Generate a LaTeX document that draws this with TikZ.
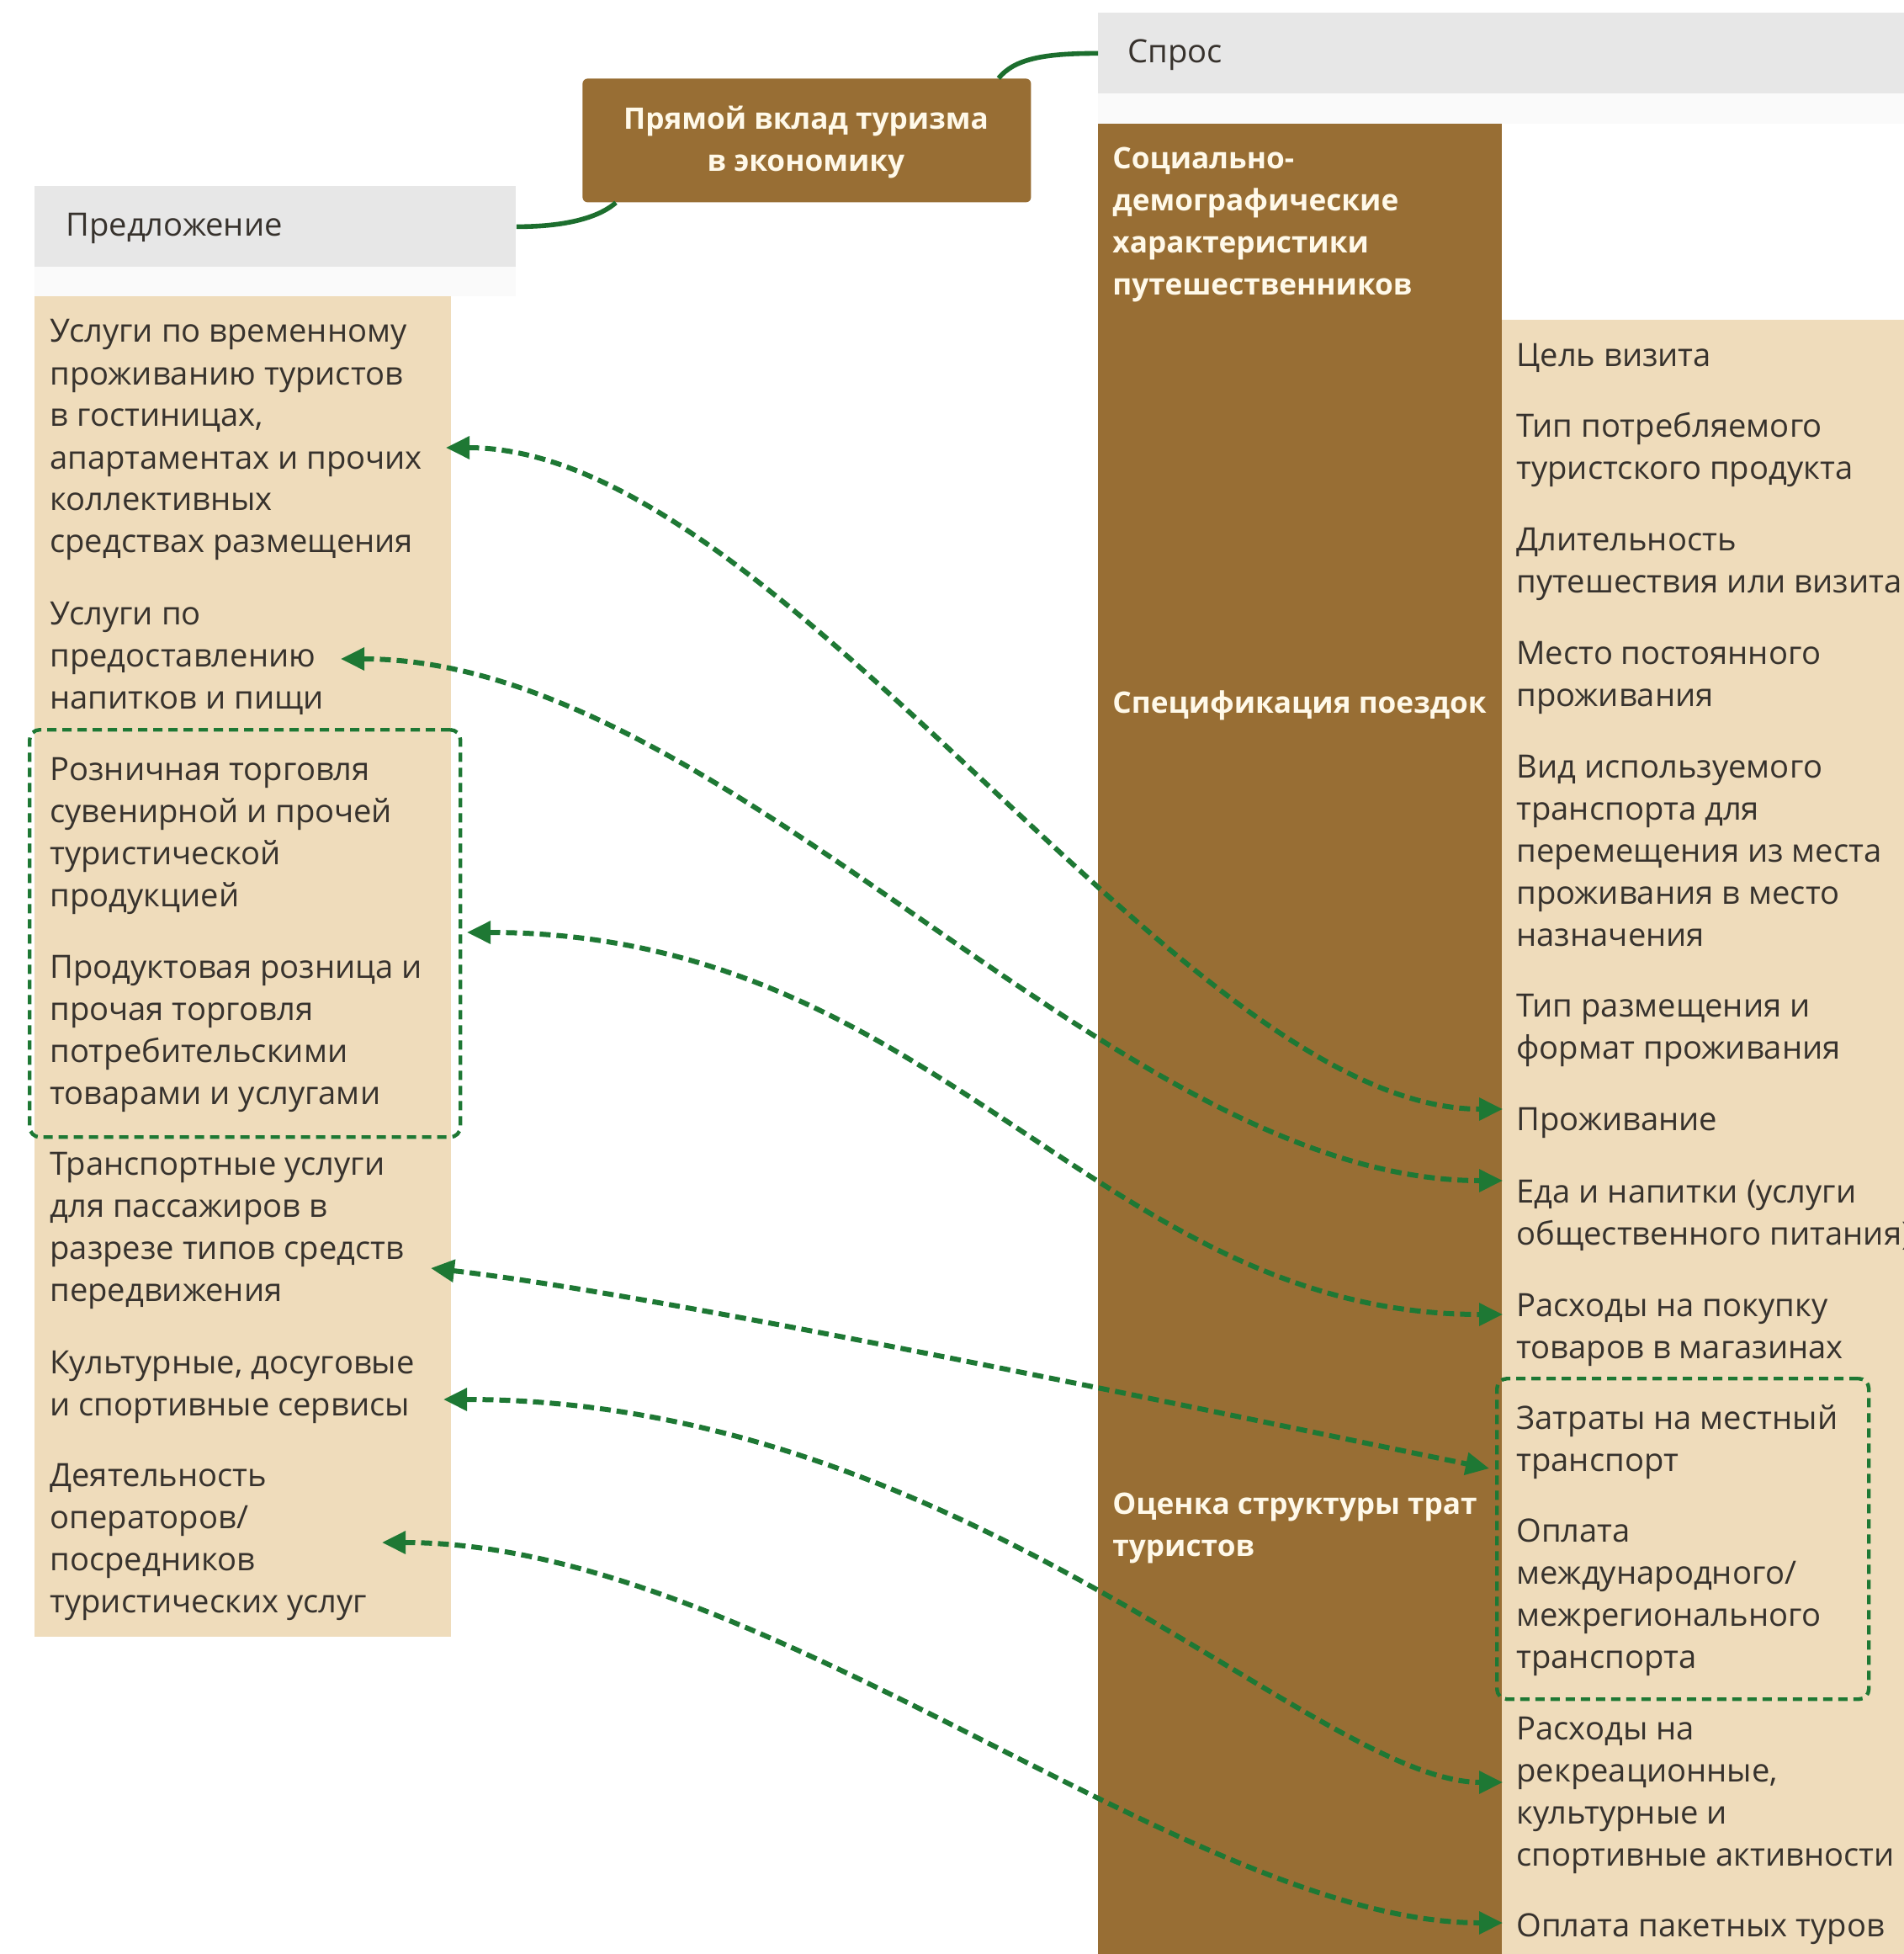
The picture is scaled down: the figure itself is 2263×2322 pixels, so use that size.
\documentclass[tikz,border=0pt]{standalone}
\usepackage{fontspec}
\setmainfont{Open Sans}
\usetikzlibrary{arrows.meta,calc}
\definecolor{brownc}{RGB}{152,110,52}
\definecolor{beigec}{RGB}{239,220,187}
\definecolor{grayc}{RGB}{231,231,231}
\definecolor{faintc}{RGB}{250,250,250}
\definecolor{linkc}{RGB}{30,120,52}
\definecolor{connc}{RGB}{28,110,46}
\definecolor{textc}{RGB}{55,50,45}
\definecolor{creamc}{RGB}{255,249,233}
\tikzset{
  txt/.style={anchor=base west, inner sep=0pt, text=textc, font=\fontsize{19.1}{25}\selectfont},
  wtxt/.style={anchor=base west, inner sep=0pt, text=creamc, font=\bfseries\fontsize{17.6}{25}\selectfont},
  link/.style={draw=linkc, line width=3pt, dash pattern=on 6.5pt off 3.5pt,
    {Triangle[length=14pt,width=13pt]}-{Triangle[length=14pt,width=13pt]}},
  grpbox/.style={draw=linkc, line width=2.2pt, dash pattern=on 5.5pt off 3.5pt, rounded corners=6pt, inner sep=0pt},
  conn/.style={draw=connc, line width=2.8pt},
}
\newcommand{\blk}[1]{\parbox[t]{300pt}{#1}}
\begin{document}
\begin{tikzpicture}[x=0.5pt,y=-0.5pt]
\useasboundingbox (0,0) rectangle (2263,2322);
\clip (0,0) rectangle (2263,2322);
% panels
\fill[white] (0,0) rectangle (2263,2322);
\node (spros) [fill=grayc, minimum width=479pt, minimum height=48pt, inner sep=0pt, anchor=north west] at (1305,15) {};
\fill[faintc] (1305,111) rectangle (2263,147);
\fill[brownc] (1305,147) rectangle (1785,2322);
\fill[beigec] (1785,380) rectangle (2263,2322);
\node (predl) [fill=grayc, minimum width=286pt, minimum height=48pt, inner sep=0pt, anchor=north west] at (41,221) {};
\fill[faintc] (41,317) rectangle (613,352);
\fill[beigec] (41,352) rectangle (536,1945);
\node (title) [fill=brownc, rounded corners=3pt, minimum width=266.5pt, minimum height=73.5pt, inner sep=0pt, anchor=north west] at (692,93) {};

% connectors from the title
\draw[conn] (predl.east) .. controls +(66,0) and +(-17,15) .. ($(title.south west)+(40,0)$);
\draw[conn] ($(title.north east)+(-39,0)$) .. controls +(19,-23) and +(-65,0) .. (spros.west);

% header texts
\node (sprost) [txt] at (1340,75) {Спрос};
\node (predlt) [txt] at (78,281) {Предложение};
\node (titlet) [anchor=base, inner sep=0pt, text=creamc, font=\bfseries\fontsize{17.6}{25}\selectfont] at (958,154)
  {\parbox[t]{300pt}{\centering Прямой вклад туризма\\в экономику}};

% brown column
\node (b1) [wtxt] at (1322,201) {\blk{Социально-\\демографические\\характеристики\\путешественников}};
\node (b2) [wtxt] at (1322,847) {\blk{Спецификация поездок}};
\node (b3) [wtxt] at (1322,1799) {\blk{Оценка структуры трат\\туристов}};

% right column
\node (r1) [txt] at (1802,435) {\blk{Цель визита}};
\node (r2) [txt] at (1802,519) {\blk{Тип потребляемого\\туристского продукта}};
\node (r3) [txt] at (1802,654) {\blk{Длительность\\путешествия или визита}};
\node (r4) [txt] at (1802,789) {\blk{Место постоянного\\проживания}};
\node (r5) [txt] at (1802,924) {\blk{Вид используемого\\транспорта для\\перемещения из места\\проживания в место\\назначения}};
\node (r6) [txt] at (1802,1208) {\blk{Тип размещения и\\формат проживания}};
\node (r7) [txt] at (1802,1343) {\blk{Проживание}};
\node (r8) [txt] at (1802,1429) {\blk{Еда и напитки (услуги\\общественного питания)}};
\node (r9) [txt] at (1802,1564) {\blk{Расходы на покупку\\товаров в магазинах}};
\node (r10) [txt] at (1802,1698) {\blk{Затраты на местный\\транспорт}};
\node (r11) [txt] at (1802,1832) {\blk{Оплата\\международного/\\межрегионального\\транспорта}};
\node (r12) [txt] at (1802,2067) {\blk{Расходы на\\рекреационные,\\культурные и\\спортивные активности}};
\node (r13) [txt] at (1802,2301) {\blk{Оплата пакетных туров}};

% left column
\node (l1) [txt] at (59,407) {\blk{Услуги по временному\\проживанию туристов\\в гостиницах,\\апартаментах и прочих\\коллективных\\средствах размещения}};
\node (l2) [txt] at (59,742) {\blk{Услуги по\\предоставлению\\напитков и пищи}};
\node (l3) [txt] at (59,927) {\blk{Розничная торговля\\сувенирной и прочей\\туристической\\продукцией}};
\node (l4) [txt] at (59,1162) {\blk{Продуктовая розница и\\прочая торговля\\потребительскими\\товарами и услугами}};
\node (l5) [txt] at (59,1396) {\blk{Транспортные услуги\\для пассажиров в\\разрезе типов средств\\передвижения}};
\node (l6) [txt] at (59,1632) {\blk{Культурные, досуговые\\и спортивные сервисы}};
\node (l7) [txt] at (59,1766) {\blk{Деятельность\\операторов/\\посредников\\туристических услуг}};

% dashed groups
\node (grpL) [grpbox, minimum width=256pt, minimum height=242pt, anchor=north west] at (33,865) {};
\node (grpR) [grpbox, minimum width=221pt, minimum height=190.5pt, anchor=north west] at (1777,1636) {};

% arrow end points
\coordinate (a1L) at (530,532);  \coordinate (a1R) at (1786,1318);
\coordinate (a2L) at (405,783);  \coordinate (a2R) at (1786,1403);
\coordinate (a3L) at (555,1108); \coordinate (a3R) at (1786,1562);
\coordinate (a4L) at (512,1507); \coordinate (a4R) at (1770,1745);
\coordinate (a5L) at (527,1663); \coordinate (a5R) at (1786,2118);
\coordinate (a6L) at (454,1833); \coordinate (a6R) at (1786,2285);

\draw[link] (a1L) .. controls +(400,0) and +(-380,0) .. (a1R);
\draw[link] (a2L) .. controls +(460,0) and +(-460,0) .. (a2R);
\draw[link] (a3L) .. controls +(560,0) and +(-480,0) .. (a3R);
\draw[link] (a4L) .. controls +(288,33) and +(-270,-55) .. (a4R);
\draw[link] (a5L) .. controls +(620,0) and +(-220,0) .. (a5R);
\draw[link] (a6L) .. controls +(450,0) and +(-370,0) .. (a6R);
\end{tikzpicture}
\end{document}
